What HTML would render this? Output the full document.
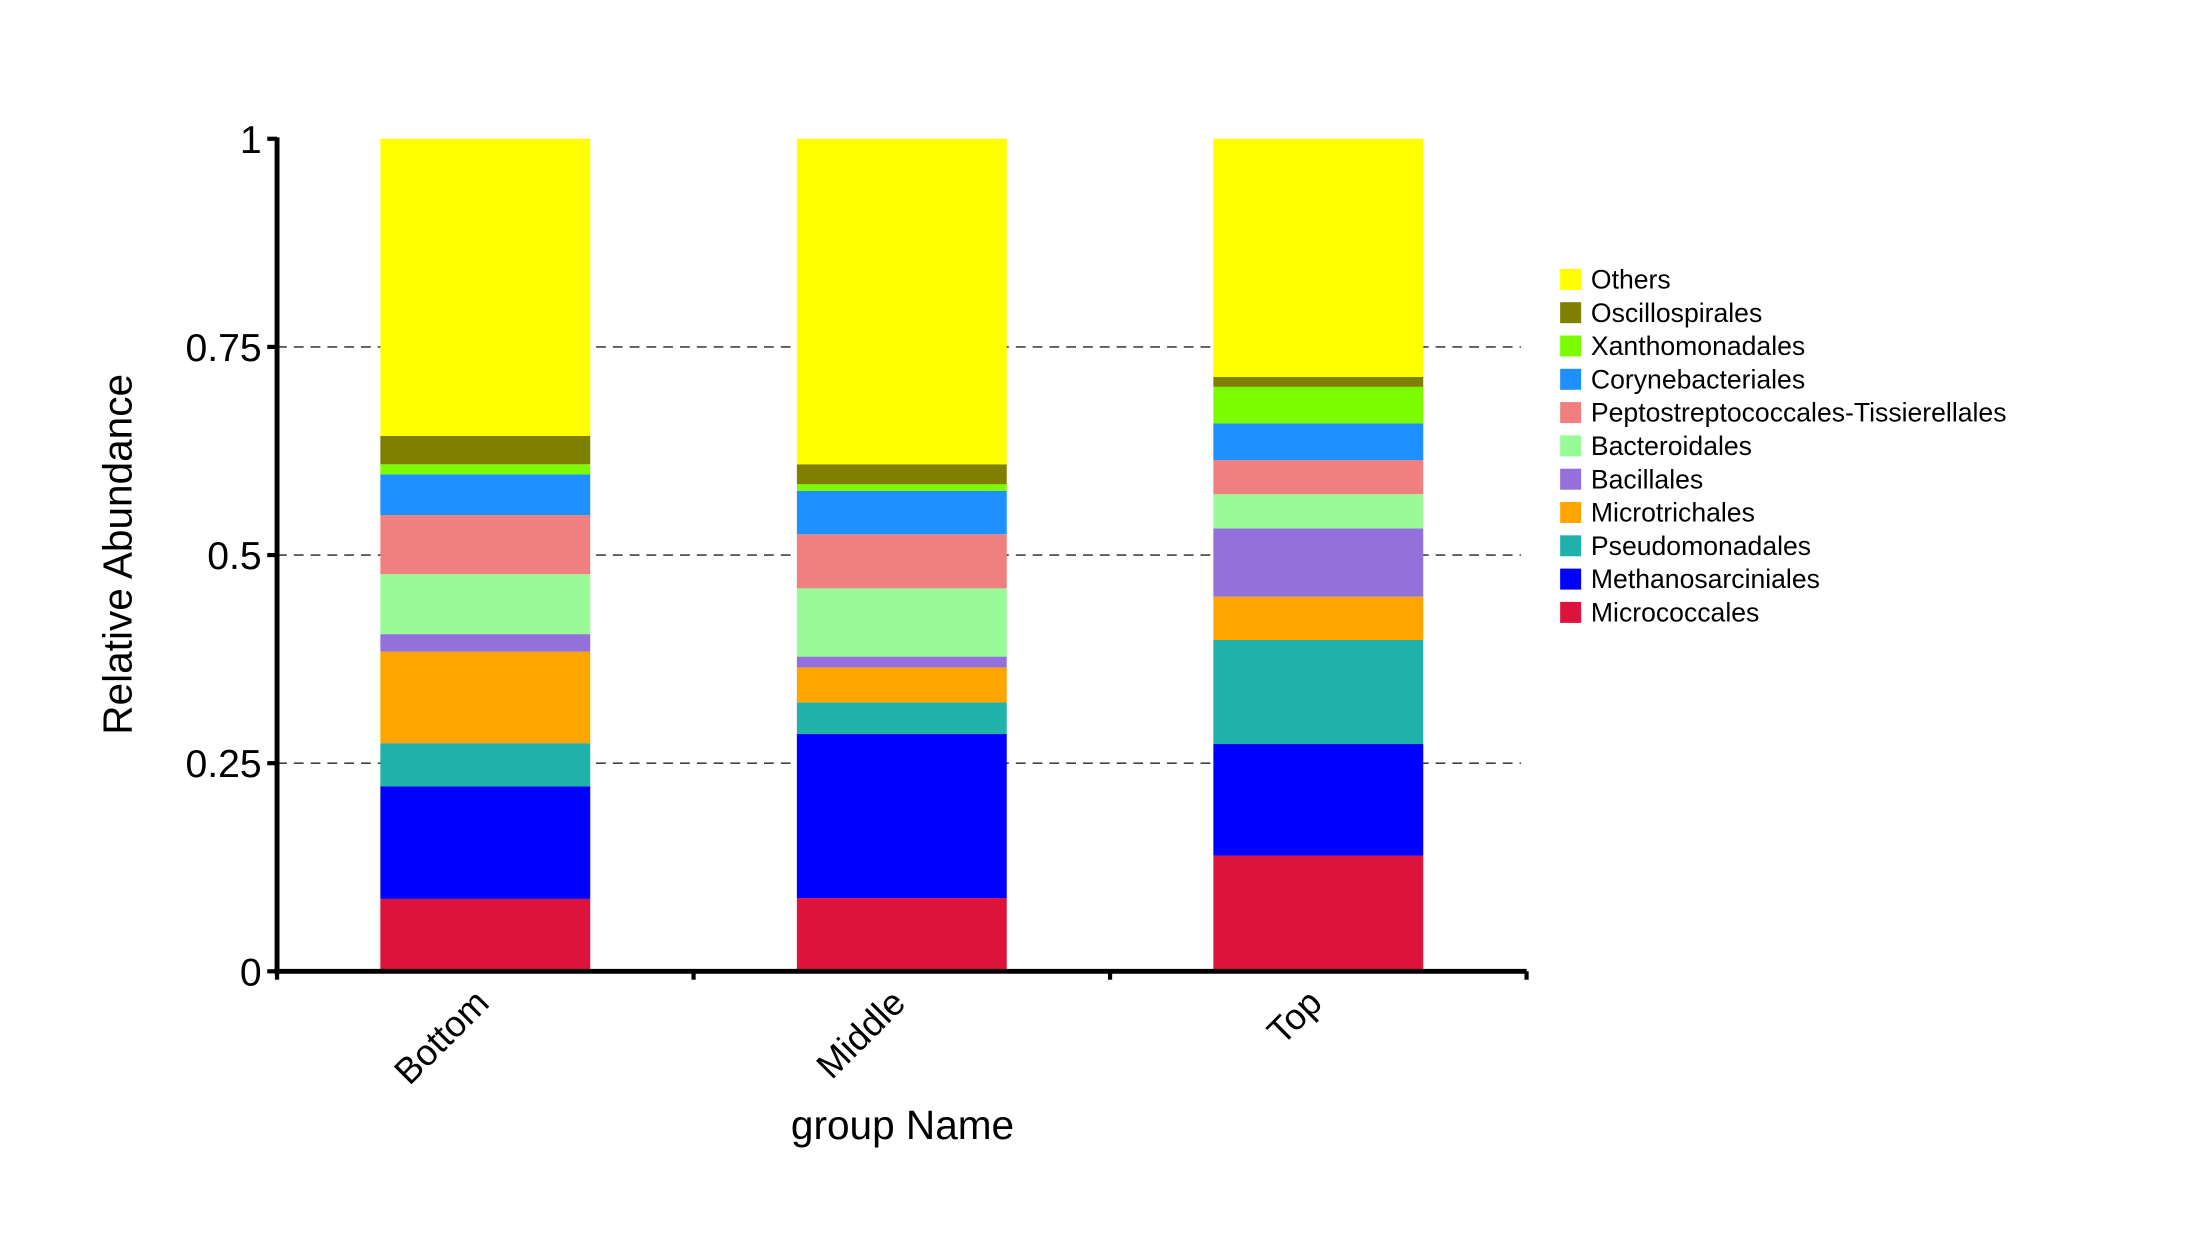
<!DOCTYPE html>
<html><head><meta charset="utf-8"><style>
html,body{margin:0;padding:0;background:#fff;}
svg{display:block;font-family:"Liberation Sans",Arial,sans-serif;}
</style></head><body>
<svg id="chart" width="2194" height="1250" viewBox="0 0 1568 893" xmlns="http://www.w3.org/2000/svg">
<g id="grid"></g>
<g id="bars"></g>
<g id="axes"></g>
<g id="legend"></g>
<text x="0" y="0" transform="translate(94,396) rotate(-90)" font-size="29" text-anchor="middle">Relative Abundance</text>
<text x="645" y="814" font-size="29" text-anchor="middle">group Name</text>
</svg>
<script>
const categories = ["Bottom","Middle","Top"];
const seriesNames = ["Micrococcales","Methanosarciniales","Pseudomonadales","Microtrichales","Bacillales","Bacteroidales","Peptostreptococcales-Tissierellales","Corynebacteriales","Xanthomonadales","Oscillospirales","Others"];
const seriesColors = ["#dc143c","#0000ff","#20b2aa","#ffa500","#9370db","#98fb98","#f08080","#1e90ff","#7cfc00","#808000","#ffff00"];
const valsMicrococcales = [0.087,0.088,0.139];
const valsMethanosarciniales = [0.135,0.197,0.134];
const valsPseudomonadales = [0.052,0.038,0.125];
const valsMicrotrichales = [0.110,0.042,0.052];
const valsBacillales = [0.021,0.013,0.082];
const valsBacteroidales = [0.072,0.082,0.041];
const valsPepto = [0.071,0.065,0.041];
const valsCorynebacteriales = [0.049,0.052,0.044];
const valsXanthomonadales = [0.012,0.008,0.044];
const valsOscillospirales = [0.034,0.024,0.012];
const valsOthers = [0.357,0.391,0.286];
const yTicks = [0,0.25,0.5,0.75,1];
const yTickLabels = ["0","0.25","0.5","0.75","1"];

const series = [valsMicrococcales,valsMethanosarciniales,valsPseudomonadales,valsMicrotrichales,valsBacillales,valsBacteroidales,valsPepto,valsCorynebacteriales,valsXanthomonadales,valsOscillospirales,valsOthers];
const NS="http://www.w3.org/2000/svg";
const X0=198, X1=1091, Y0=694, Y1=99;
const yScale=v=>Y0-(Y0-Y1)*v;
const band=(X1-X0)/categories.length;
const xCenter=i=>X0+band*(i+0.5);
const barW=150;
function mk(tag,attrs,parent){const e=document.createElementNS(NS,tag);for(const k in attrs)e.setAttribute(k,attrs[k]);parent.appendChild(e);return e;}
const grid=document.getElementById('grid'),bars=document.getElementById('bars'),axes=document.getElementById('axes'),legend=document.getElementById('legend');
yTicks.forEach((t,i)=>{
  if(t>0&&t<1){const l=mk('line',{x1:X0,x2:1087,y1:yScale(t),y2:yScale(t),stroke:'#444','stroke-width':1.2,'stroke-dasharray':'7,5'},grid);
  
  }
  const tk=mk('line',{x1:X0-7,x2:X0,y1:yScale(t),y2:yScale(t),stroke:'#000','stroke-width':3},axes);
  
  
  const tx=mk('text',{x:X0-11,y:yScale(t)+10,'font-size':28,'text-anchor':'end'},axes);
  tx.textContent=yTickLabels[i];
  
  
});
categories.forEach((c,i)=>{
  let cum=0;
  series.forEach((s,j)=>{
    const v=s[i];
    const r=mk('rect',{x:xCenter(i)-barW/2,y:yScale(cum+v),width:barW,height:yScale(cum)-yScale(cum+v),fill:seriesColors[j]},bars);
    
    
    cum+=v;
  });
  const lb=mk('text',{x:0,y:0,'font-size':26,'text-anchor':'end',transform:`translate(${xCenter(i)+4},${Y0+24}) rotate(-45)`},axes);
  lb.textContent=c;
  
  
});
for(let i=0;i<=categories.length;i++){
  const x=X0+band*i;
  const tk=mk('line',{x1:x,x2:x,y1:Y0,y2:Y0+6,stroke:'#000','stroke-width':3},axes);
  
  
}
const ya=mk('line',{x1:X0,x2:X0,y1:Y1-1,y2:Y0+2,stroke:'#000','stroke-width':3.5},axes);


const xa=mk('line',{x1:X0-2,x2:X1,y1:Y0,y2:Y0,stroke:'#000','stroke-width':3.5},axes);


for(let k=0;k<seriesNames.length;k++){
  const j=seriesNames.length-1-k;
  const y=192+k*23.8;
  const g=mk('g',{},legend);
  
  
  mk('rect',{x:1115,y:y,width:15,height:15,fill:seriesColors[j]},g);
  const t=mk('text',{x:1137,y:y+14,'font-size':19},g);
  t.textContent=seriesNames[j];
}
</script>
</body></html>
